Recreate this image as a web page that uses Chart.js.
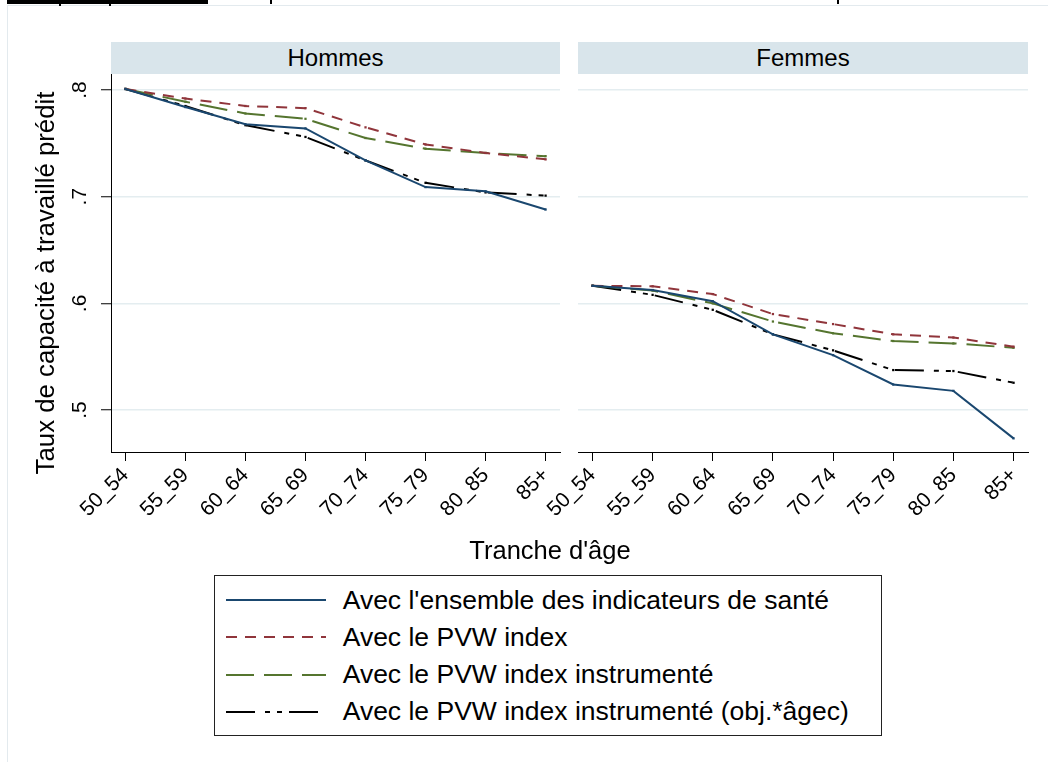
<!DOCTYPE html>
<html><head><meta charset="utf-8">
<script src="https://cdn.jsdelivr.net/npm/chart.js@4.4.1/dist/chart.umd.min.js"></script>
<style>
html,body{margin:0;padding:0;background:#fff;width:1048px;height:762px;overflow:hidden;font-family:"Liberation Sans",Arial,sans-serif;color:#000;}
.abs{position:absolute;}
.strip{background:#d9e5eb;text-align:center;font-size:24px;line-height:32px;}
canvas{position:absolute;top:0;}
</style></head><body>
<div class="abs" style="left:7px;top:5px;width:1100px;height:800px;border:1px solid #e3eaee;box-sizing:border-box"></div>
<div class="abs" style="left:7px;top:0;width:201px;height:4px;background:#000"></div>
<div class="abs" style="left:59px;top:0;width:2px;height:6px;background:#000"></div>
<div class="abs" style="left:109px;top:0;width:2px;height:6px;background:#000"></div>
<div class="abs" style="left:270px;top:0;width:2px;height:4px;background:#000"></div>
<div class="abs" style="left:837px;top:0;width:2px;height:4px;background:#000"></div>

<div class="abs strip" style="left:111px;top:42px;width:449px;height:32px">Hommes</div>
<div class="abs strip" style="left:578px;top:42px;width:450px;height:32px">Femmes</div>

<canvas id="c1" width="570" height="540" style="left:0"></canvas>
<canvas id="c2" width="508" height="540" style="left:540px"></canvas>

<div class="abs" style="left:-205px;top:268px;width:500px;height:30px;line-height:30px;text-align:center;font-size:25.8px;transform:rotate(-90deg);">Taux de capacité à travaillé prédit</div>
<div class="abs" style="left:400px;top:535px;width:300px;height:30px;line-height:30px;text-align:center;font-size:25.5px;">Tranche d'âge</div>

<div class="abs" style="left:214px;top:575px;width:668px;height:161px;border:1px solid #222;box-sizing:border-box"></div>
<div id="legend"></div>

<script>
// ---- data ----
const categories = ['50_54','55_59','60_64','65_69','70_74','75_79','80_85','85+'];
const panelTitles = ['Hommes','Femmes'];
const seriesNames = [
  "Avec l'ensemble des indicateurs de santé",
  "Avec le PVW index",
  "Avec le PVW index instrumenté",
  "Avec le PVW index instrumenté (obj.*âgec)"
];
const hommesEnsemble    = [0.801, 0.784, 0.768, 0.764, 0.734, 0.709, 0.705, 0.688];
const hommesPVW         = [0.801, 0.792, 0.785, 0.783, 0.765, 0.749, 0.741, 0.735];
const hommesPVWInstr    = [0.801, 0.789, 0.778, 0.773, 0.755, 0.745, 0.741, 0.738];
const hommesPVWInstrAge = [0.801, 0.785, 0.767, 0.756, 0.734, 0.713, 0.704, 0.701];
const femmesEnsemble    = [0.6165, 0.6125, 0.602, 0.571, 0.5515, 0.524, 0.518, 0.4735];
const femmesPVW         = [0.6165, 0.616, 0.6087, 0.590, 0.5806, 0.571, 0.568, 0.5594];
const femmesPVWInstr    = [0.6165, 0.612, 0.600, 0.583, 0.572, 0.5647, 0.5625, 0.5584];
const femmesPVWInstrAge = [0.6165, 0.608, 0.594, 0.571, 0.556, 0.5375, 0.5366, 0.5256];
const yTickValues = [0.5, 0.6, 0.7, 0.8];
const yTickLabels = ['.5', '.6', '.7', '.8'];

// ---- styles ----
const colors = ['#1a476f', '#90353b', '#55752f', '#000000'];
const dashes = [[], [11, 8], [28, 10], [29, 10, 5, 7, 5, 7]];
const FONT = '"Liberation Sans", Arial, sans-serif';

function makeDatasets(seriesList) {
  return seriesList.map((vals, k) => ({
    label: seriesNames[k],
    data: vals.map((v, i) => ({x: i, y: v})),
    borderColor: colors[k],
    backgroundColor: colors[k],
    borderWidth: 2,
    borderDash: dashes[k],
    pointStyle: 'rect',
    pointRadius: 1.6,
    pointBorderWidth: 0,
    pointHoverRadius: 0,
    tension: 0,
    fill: false
  }));
}

function zeroPad(s) { s.paddingLeft = 0; s.paddingRight = 0; s.paddingTop = 0; s.paddingBottom = 0; }

function makeOptions(isLeft) {
  return {
    responsive: false,
    animation: false,
    events: [],
    layout: {padding: {top: 74, left: 0, right: isLeft ? 10 : 20, bottom: 0}},
    plugins: {legend: {display: false}, tooltip: {enabled: false}, title: {display: false}},
    scales: {
      x: {
        type: 'linear',
        min: -0.24, max: 7.24,
        afterBuildTicks: s => { s.ticks = categories.map((c, i) => ({value: i})); },
        afterFit: s => { s.height = 88; zeroPad(s); },
        border: {display: true, color: '#000', width: 1},
        grid: {display: true, drawOnChartArea: false, drawTicks: true, tickLength: 9, tickColor: '#000', tickWidth: 1},
        ticks: {
          callback: v => categories[v],
          minRotation: 45, maxRotation: 45, autoSkip: false,
          padding: 2, color: '#000', font: {family: FONT, size: 21}
        }
      },
      y: {
        type: 'linear',
        min: 0.4607, max: 0.815,
        afterBuildTicks: s => { s.ticks = yTickValues.map(v => ({value: v})); },
        afterFit: s => { s.width = isLeft ? 111 : 38; zeroPad(s); },
        border: {display: isLeft, color: '#000', width: 1},
        grid: {display: true, drawOnChartArea: true, drawTicks: isLeft, tickLength: 10, color: '#e4edf0', lineWidth: 1.5, tickColor: '#000', tickWidth: 1},
        ticks: {
          display: isLeft,
          callback: v => yTickLabels[yTickValues.indexOf(v)],
          minRotation: 90, maxRotation: 90, crossAlign: 'center',
          padding: 12, color: '#000', font: {family: FONT, size: 21}
        }
      }
    }
  };
}

new Chart(document.getElementById('c1'), {
  type: 'line',
  data: {datasets: makeDatasets([hommesEnsemble, hommesPVW, hommesPVWInstr, hommesPVWInstrAge])},
  options: makeOptions(true)
});
new Chart(document.getElementById('c2'), {
  type: 'line',
  data: {datasets: makeDatasets([femmesEnsemble, femmesPVW, femmesPVWInstr, femmesPVWInstrAge])},
  options: makeOptions(false)
});

// ---- legend (HTML) ----
const leg = document.getElementById('legend');
seriesNames.forEach((name, k) => {
  const cy = 600 + k * 37.3;
  const svgNS = 'http://www.w3.org/2000/svg';
  const svg = document.createElementNS(svgNS, 'svg');
  svg.setAttribute('width', '100'); svg.setAttribute('height', '6');
  svg.style.position = 'absolute'; svg.style.left = '226px'; svg.style.top = (cy - 3) + 'px';
  const ln = document.createElementNS(svgNS, 'line');
  ln.setAttribute('x1', '0'); ln.setAttribute('x2', '100');
  ln.setAttribute('y1', '3'); ln.setAttribute('y2', '3');
  ln.setAttribute('stroke', colors[k]); ln.setAttribute('stroke-width', '2');
  if (dashes[k].length) ln.setAttribute('stroke-dasharray', dashes[k].join(' '));
  svg.appendChild(ln);
  leg.appendChild(svg);
  const t = document.createElement('div');
  t.className = 'abs';
  t.style.left = '342.7px'; t.style.top = (cy - 18.5) + 'px';
  t.style.height = '37px'; t.style.lineHeight = '37px'; t.style.fontSize = '26.5px';
  t.style.whiteSpace = 'nowrap';
  t.textContent = name;
  leg.appendChild(t);
});
</script>
</body></html>
